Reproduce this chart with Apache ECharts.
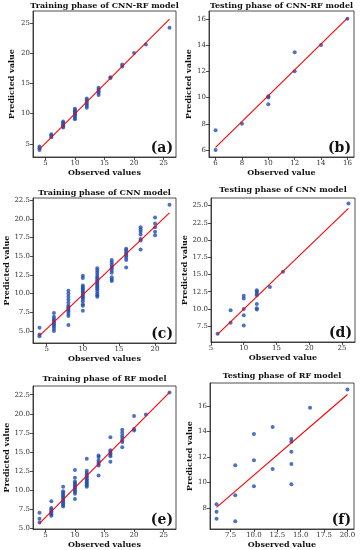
<!DOCTYPE html>
<html><head><meta charset="utf-8">
<script src="https://cdn.jsdelivr.net/npm/echarts@6/dist/echarts.min.js"></script>
<style>html,body{margin:0;padding:0;background:#fff}#c{width:360px;height:550px}</style>
</head><body><div id="c"></div>
<script>
// (a) Training phase of CNN-RF model
const aObs = [4, 6, 8, 10, 12, 14, 16, 18, 20, 22, 26];
const aPred = [[4.0,4.3,4.6],[6.1,6.4,6.6],[7.7,7.9,8.1,8.3,8.5,8.7],[9.1,9.3,9.6,9.8,10.0,10.2,10.4,10.6,10.8],[11.0,11.3,11.6,11.9,12.2,12.5],[13.1,13.4,13.7,14.0,14.3],[15.9,16.0],[17.8,18.1],[20.0],[21.4],[24.2]];
const aFit = [[4, 4.15], [26, 25.6]];
const aXTicks = [5, 10, 15, 20, 25];
const aYTicks = [5, 10, 15, 20, 25];

// (b) Testing phase of CNN-RF model
const bObs = [6, 8, 10, 12, 14, 16];
const bPred = [[6.0,7.5],[8.0],[9.5,10.0,10.1],[12.0,13.45],[14.0],[16.0]];
const bFit = [[6, 6.2], [16, 16.05]];
const bXTicks = [6, 8, 10, 12, 14, 16];
const bYTicks = [6, 8, 10, 12, 14, 16];

// (c) Training phase of CNN model
const cObs = [4, 6, 8, 10, 12, 14, 16, 18, 20, 22];
const cPred = [[4.3,4.55,5.45],[5.0,5.3,5.6,5.8,6.0,6.2,6.4,6.6,6.9,7.4],[5.8,7.0,7.3,7.6,7.8,8.0,8.2,8.4,8.8,9.2,9.6,10.0,10.4],[7.7,8.4,8.6,9.0,9.3,9.5,9.7,9.9,10.1,10.3,10.5,10.7,10.9,11.1,12.1,12.4],[9.6,9.8,10.0,10.3,10.6,10.8,11.0,11.2,11.4,11.6,11.8,12.0,12.2,12.5,12.8,13.1,13.4],[11.7,11.9,12.2,12.8,13.1,13.4,13.6,13.9,14.2,14.5],[13.5,14.5,14.8,15.1,15.3,15.5,15.8,16.0],[15.9,17.1,17.3,17.9,18.3,18.6,18.9],[17.8,18.3,18.9,19.4,20.2],[21.9]];
const cFit = [[4, 4.4], [22, 20.8]];
const cXTicks = [5, 10, 15, 20];
const cYTicks = [5, 7.5, 10, 12.5, 15, 17.5, 20, 22.5];

// (d) Testing phase of CNN model
const dObs = [6, 8, 10, 12, 14, 16, 26];
const dPred = [[6.4],[8.0,9.8],[7.6,9.1,10.0,11.5,11.9],[9.9,10.1,10.7,12.0,12.2,12.5,12.7],[13.2],[15.4],[25.3]];
const dFit = [[6, 6.3], [26, 24.6]];
const dXTicks = [5, 10, 15, 20, 25];
const dYTicks = [7.5, 10, 12.5, 15, 17.5, 20, 22.5, 25];

// (e) Training phase of RF model
const eObs = [4, 6, 8, 10, 12, 14, 16, 18, 20, 22, 26];
const ePred = [[5.7,6.2,7.0],[6.6,6.8,7.0,7.2,7.4,7.6,8.5],[7.8,8.0,8.2,8.4,8.6,8.8,9.0,9.2,9.4,9.6,9.8,10.4],[8.8,9.5,9.7,9.9,10.1,10.3,10.5,10.7,10.9,11.1,11.6,12.6],[10.4,10.6,10.8,11.0,11.2,11.4,11.6,11.8,12.0,12.2,12.5,14.1],[11.9,13.2,13.4,13.6,13.9,14.3,14.5],[13.7,14.4,14.6,14.8,15.0,15.2,16.9],[15.6,16.3,16.5,16.8,17.1,17.5,17.9],[17.8,18.0,19.7],[19.9],[22.8]];
const eFit = [[4, 5.6], [26, 22.8]];
const eXTicks = [5, 10, 15, 20, 25];
const eYTicks = [5, 7.5, 10, 12.5, 15, 17.5, 20, 22.5];

// (f) Testing phase of RF model
const fObs = [6, 8, 10, 12, 14, 16, 20];
const fPred = [[7.15,7.7,8.3],[6.95,9.0,11.35],[9.7,11.75,13.8],[11.05,14.35],[9.85,11.45,12.4,13.2,13.4],[15.85],[17.3]];
const fFit = [[6, 8.05], [20, 16.9]];
const fXTicks = [7.5, 10, 12.5, 15, 17.5, 20];
const fYTicks = [8, 10, 12, 14, 16];

function pairs(obs, pred) {
  const out = [];
  obs.forEach((x, i) => pred[i].forEach(y => out.push([x, y])));
  return out;
}

const panels = [
  {title:'Training phase of CNN-RF model', tag:'(a)', xName:'Observed values', obs:aObs, pred:aPred, fit:aFit, xt:aXTicks, yt:aYTicks, xd:0, yd:0,
   grid:{left:33, top:11, width:143, height:146}, xr:[2.9,27.1], yr:[2.85,26.95], ty:1.5},
  {title:'Testing phase of CNN-RF model', tag:'(b)', xName:'Observed value', obs:bObs, pred:bPred, fit:bFit, xt:bXTicks, yt:bYTicks, xd:0, yd:0,
   grid:{left:209, top:11, width:145, height:146}, xr:[5.5,16.5], yr:[5.47,16.6], ty:1.5},
  {title:'Training phase of CNN model', tag:'(c)', xName:'Observed values', obs:cObs, pred:cPred, fit:cFit, xt:cXTicks, yt:cYTicks, xd:0, yd:1,
   grid:{left:33, top:198, width:143, height:145}, xr:[3.1,22.9], yr:[3.4,22.8], ty:189},
  {title:'Testing phase of CNN model', tag:'(d)', xName:'Observed value', obs:dObs, pred:dPred, fit:dFit, xt:dXTicks, yt:dYTicks, xd:0, yd:1,
   grid:{left:211, top:198, width:144, height:144}, xr:[5,27], yr:[5.2,26.1], ty:186},
  {title:'Training phase of RF model', tag:'(e)', xName:'Observed values', obs:eObs, pred:ePred, fit:eFit, xt:eXTicks, yt:eYTicks, xd:0, yd:1,
   grid:{left:33, top:386, width:143, height:143}, xr:[2.9,27.1], yr:[4.85,23.65], ty:375},
  {title:'Testing phase of RF model', tag:'(f)', xName:'Observed value', obs:fObs, pred:fPred, fit:fFit, xt:fXTicks, yt:fYTicks, xd:1, yd:0,
   grid:{left:210, top:383, width:144, height:146}, xr:[5.3,20.7], yr:[6.35,17.8], ty:372}
];

const lineCol = '#222';
const labelFont = 'DejaVu Serif';
const grids = [], xAxes = [], yAxes = [], series = [], graphics = [];

panels.forEach((p, i) => {
  grids.push(Object.assign({show:true, borderColor:lineCol, borderWidth:0.8, backgroundColor:'#fff'}, p.grid));
  const common = (ticks, dec) => ({
    type:'value', gridIndex:i, splitLine:{show:false},
    axisLine:{show:true, onZero:false, lineStyle:{color:lineCol, width:0.8}},
    axisTick:{show:true, customValues:ticks, length:3, lineStyle:{color:lineCol, width:0.8}},
    axisLabel:{customValues:ticks, fontSize:7, color:'#333', fontFamily:labelFont, margin:3,
      formatter: v => dec ? Number(v).toFixed(1) : String(v)},
    nameLocation:'middle',
    nameTextStyle:{fontFamily:labelFont, fontWeight:'bold', fontSize:8, color:'#111'}
  });
  xAxes.push(Object.assign(common(p.xt, p.xd), {min:p.xr[0], max:p.xr[1], name:p.xName, nameGap:12}));
  yAxes.push(Object.assign(common(p.yt, p.yd), {min:p.yr[0], max:p.yr[1], name:'Predicted value', nameGap:p.grid.left < 100 ? 17 : 15}));
  series.push({type:'scatter', xAxisIndex:i, yAxisIndex:i, data:pairs(p.obs, p.pred), symbolSize:4,
    itemStyle:{color:'#1f4fb4'}, silent:true, z:3});
  series.push({type:'line', xAxisIndex:i, yAxisIndex:i, data:p.fit, showSymbol:false, symbol:'none',
    lineStyle:{color:'#ff0000', width:1.1}, silent:true, z:4});
  const cx = p.grid.left + p.grid.width / 2;
  graphics.push({type:'text', x:cx, y:p.ty, style:{text:p.title, font:'bold 8px "DejaVu Serif"', fill:'#111', align:'center', verticalAlign:'top'}});
  graphics.push({type:'text', x:p.grid.left + p.grid.width - 3, y:p.grid.top + p.grid.height - 2,
    style:{text:p.tag, font:'bold 14px "DejaVu Serif"', fill:'#111', align:'right', verticalAlign:'bottom'}, z:10});
});

const chart = echarts.init(document.getElementById('c'), null, {renderer:'canvas'});
chart.setOption({
  animation:false,
  backgroundColor:'#fff',
  grid:grids, xAxis:xAxes, yAxis:yAxes, series:series, graphic:graphics
});
</script>
</body></html>
